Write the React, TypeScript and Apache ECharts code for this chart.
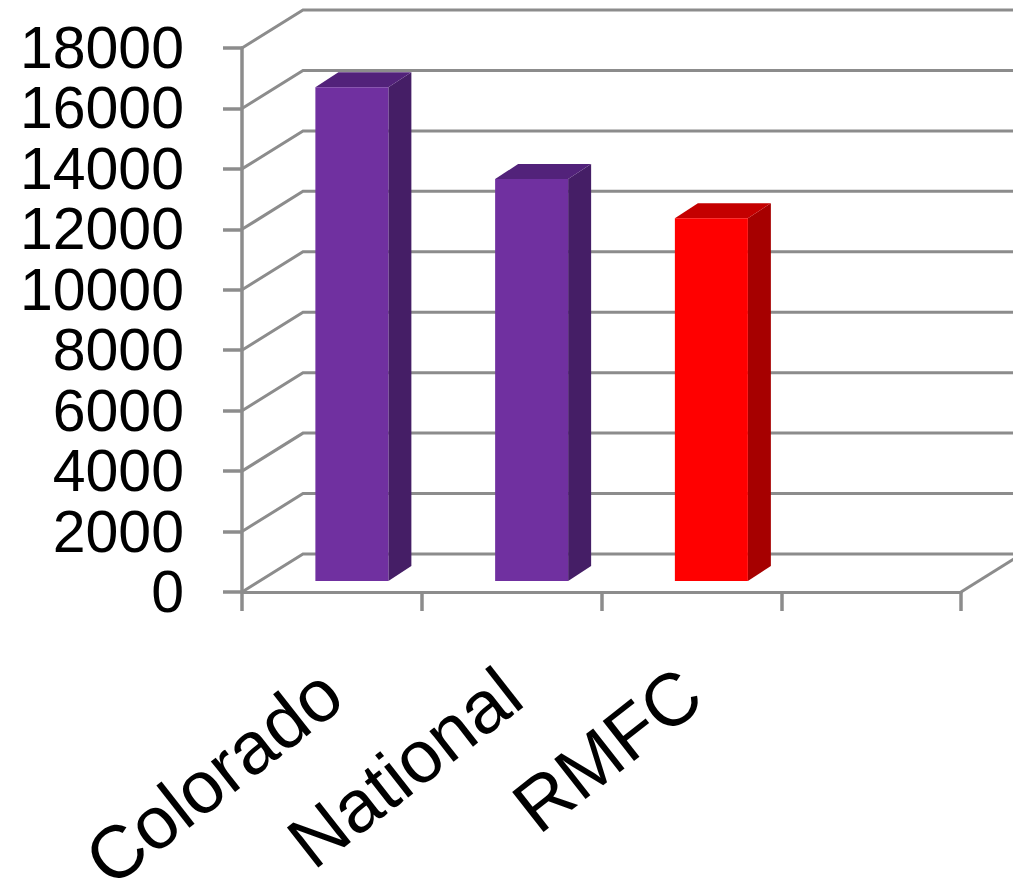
import React, { useEffect, useRef } from "react";
import * as echarts from "echarts";

const categories = ["Colorado", "National", "RMFC", ""];
const values = [16340, 13300, 12000];
const frontColors = ["#7030A0", "#7030A0", "#FF0000"];
const sideColors = ["#451E66", "#451E66", "#A60000"];
const topColors = ["#52227A", "#52227A", "#C40000"];
const wallTicks = [0, 2000, 4000, 6000, 8000, 10000, 12000, 14000, 16000, 18000];

const GREY = "#8C8C8C";
const WALL_DX = 61;
const WALL_DY = 38;
const BAR_DX = 20;
const BAR_DY = 11;
const BAR_W = 73;
const DEPTH_DX = 23;
const DEPTH_DY = 15;

export default function App() {
  const ref = useRef<HTMLDivElement>(null);
  useEffect(() => {
    const chart = echarts.init(ref.current!, undefined, { renderer: "svg" });
    chart.setOption({
      animation: false,
      backgroundColor: "#fff",
      grid: { left: 242, top: 48, width: 719, height: 544, containLabel: false, outerBoundsMode: "none" },
      xAxis: {
        type: "category",
        data: categories,
        boundaryGap: true,
        axisLine: { lineStyle: { color: GREY, width: 3 } },
        axisTick: { show: true, length: 19, alignWithLabel: false, interval: 0, lineStyle: { color: GREY, width: 3.5 } },
        axisLabel: {
          interval: 0,
          rotate: 38,
          margin: 92,
          fontFamily: "Liberation Sans",
          fontSize: 74,
          color: "#000",
        },
      },
      yAxis: {
        type: "value",
        min: 0,
        max: 18000,
        interval: 2000,
        splitLine: { show: false },
        axisLine: { show: true, lineStyle: { color: GREY, width: 3.5 } },
        axisTick: { show: true, length: 19, lineStyle: { color: GREY, width: 3.5 } },
        axisLabel: {
          margin: 58,
          fontFamily: "Liberation Sans",
          fontSize: 59,
          color: "#000",
          formatter: (v: number) => String(v),
        },
      },
      series: [
        {
          type: "custom",
          name: "walls",
          z: 1,
          silent: true,
          coordinateSystem: "cartesian2d",
          data: wallTicks.map((v) => [0, v]),
          encode: { x: 0, y: 1 },
          renderItem: (params: any, api: any) => {
            const y = api.coord([0, api.value(1)])[1];
            const cs = params.coordSys;
            const x0 = cs.x;
            const x1 = cs.x + cs.width;
            const isFloor = api.value(1) === 0;
            const children: any[] = [
              {
                type: "polyline",
                shape: {
                  points: [
                    [x0, y],
                    [x0 + WALL_DX, y - WALL_DY],
                    [x1 + WALL_DX, y - WALL_DY],
                  ],
                },
                style: { stroke: GREY, lineWidth: 3, fill: "none" },
              },
            ];
            if (isFloor) {
              children.push({
                type: "line",
                shape: { x1, y1: y, x2: x1 + WALL_DX, y2: y - WALL_DY },
                style: { stroke: GREY, lineWidth: 3 },
              });
            }
            return { type: "group", children };
          },
        },
        {
          type: "custom",
          name: "bars",
          z: 3,
          coordinateSystem: "cartesian2d",
          data: values.map((v, i) => [i, v]),
          encode: { x: 0, y: 1 },
          renderItem: (params: any, api: any) => {
            const i = api.value(0);
            const top = api.coord([i, api.value(1)]);
            const base = api.coord([i, 0]);
            const xl = top[0] + BAR_DX - BAR_W / 2;
            const xr = xl + BAR_W;
            const yt = top[1] - BAR_DY;
            const yb = base[1] - BAR_DY;
            return {
              type: "group",
              children: [
                {
                  type: "polygon",
                  shape: {
                    points: [
                      [xr, yt],
                      [xr + DEPTH_DX, yt - DEPTH_DY],
                      [xr + DEPTH_DX, yb - DEPTH_DY],
                      [xr, yb],
                    ],
                  },
                  style: { fill: sideColors[i] },
                },
                {
                  type: "polygon",
                  shape: {
                    points: [
                      [xl, yt],
                      [xl + DEPTH_DX, yt - DEPTH_DY],
                      [xr + DEPTH_DX, yt - DEPTH_DY],
                      [xr, yt],
                    ],
                  },
                  style: { fill: topColors[i] },
                },
                {
                  type: "rect",
                  shape: { x: xl, y: yt, width: BAR_W, height: yb - yt },
                  style: { fill: frontColors[i] },
                },
              ],
            };
          },
        },
      ],
    });
    return () => chart.dispose();
  }, []);
  return (
    <div
      ref={ref}
      style={{ position: "absolute", left: 0, top: 0, width: 1013, height: 879 }}
    />
  );
}
